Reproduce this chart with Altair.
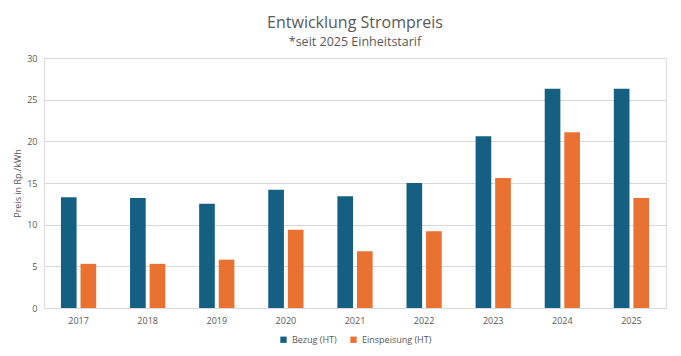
import altair as alt
import pandas as pd

years = ["2017", "2018", "2019", "2020", "2021", "2022", "2023", "2024", "2025"]
bezug = [13.3, 13.2, 12.5, 14.2, 13.4, 15.0, 20.6, 26.3, 26.3]
einspeisung = [5.3, 5.3, 5.8, 9.4, 6.8, 9.2, 15.6, 21.1, 13.2]
series = ["Bezug (HT)", "Einspeisung (HT)"]
colors = ["#156082", "#E97132"]

rows = []
for i, y in enumerate(years):
    rows.append({"Jahr": y, "Serie": series[0], "Wert": bezug[i]})
    rows.append({"Jahr": y, "Serie": series[1], "Wert": einspeisung[i]})
df = pd.DataFrame(rows)

FONT = "Open Sans"
GRAY = "#595959"

chart = alt.Chart(df).mark_bar().encode(
    x=alt.X("Jahr:N", sort=years, title=None,
            scale=alt.Scale(paddingInner=0.49, paddingOuter=0.245),
            axis=alt.Axis(labelAngle=0, ticks=False, domain=True, domainColor="#D9D9D9",
                          labelColor=GRAY, labelFontSize=9, labelFont=FONT, labelPadding=8)),
    xOffset=alt.XOffset("Serie:N", sort=series, scale=alt.Scale(paddingInner=0.2, paddingOuter=0)),
    y=alt.Y("Wert:Q", title="Preis in Rp./kWh",
            scale=alt.Scale(domain=[0, 30]),
            axis=alt.Axis(values=[0, 5, 10, 15, 20, 25, 30], ticks=False, domain=False,
                          gridColor="#D9D9D9", gridWidth=1,
                          labelColor=GRAY, labelFontSize=9, labelFont=FONT, labelPadding=7,
                          titleColor=GRAY, titleFontSize=9, titleFont=FONT, titleFontWeight="normal",
                          titleX=-22, titleY=125, titleAngle=-90, titleAlign="center",
                          titleBaseline="bottom")),
    color=alt.Color("Serie:N", sort=series,
                    scale=alt.Scale(domain=series, range=colors),
                    legend=alt.Legend(title=None, orient="none", direction="horizontal",
                                      legendX=235, legendY=277, symbolType="square",
                                      symbolSize=40, labelFontSize=9, labelColor=GRAY,
                                      labelFont=FONT, columnPadding=12, symbolStrokeWidth=0)),
).properties(
    width=622,
    height=250,
    title=alt.Title("Entwicklung Strompreis", subtitle="*seit 2025 Einheitstarif",
                    anchor="middle", font=FONT, fontSize=16, fontWeight="normal", color=GRAY,
                    subtitleFont=FONT, subtitleFontSize=12.5, subtitleColor=GRAY,
                    offset=6, subtitlePadding=5),
    autosize=alt.AutoSizeParams(type="none"),
    padding={"left": 36, "top": 50, "right": 7, "bottom": 40},
).configure_view(stroke=None).configure(background="white")

chart.save("out.html", embed_options={"renderer": "svg", "actions": False})
